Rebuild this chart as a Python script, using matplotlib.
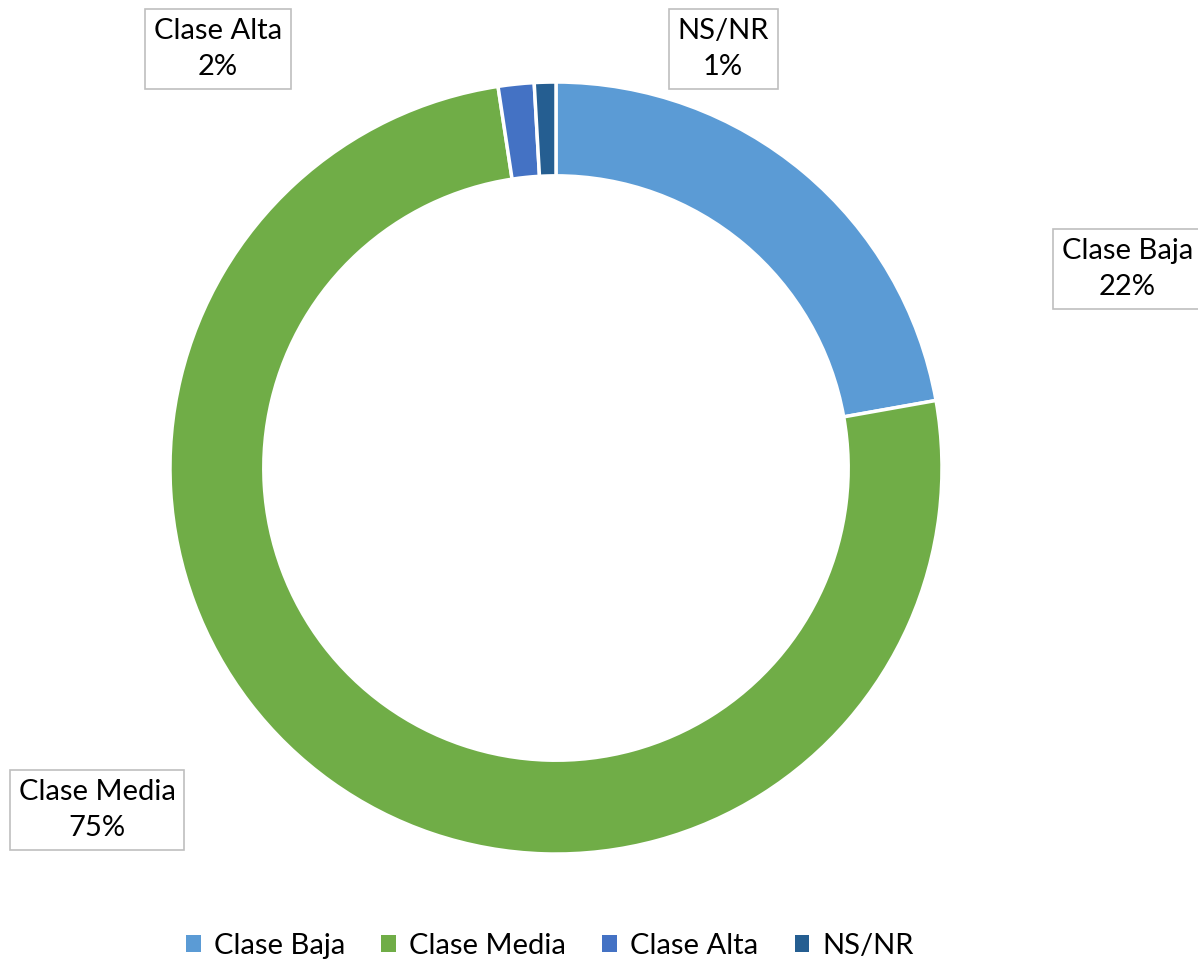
import matplotlib.pyplot as plt
from matplotlib.patches import Patch

categories = ['Clase Baja', 'Clase Media', 'Clase Alta', 'NS/NR']
values = [22.2, 75.4, 1.5, 0.9]
pct_labels = ['22%', '75%', '2%', '1%']
colors = ['#5B9BD5', '#70AD47', '#4472C4', '#255E91']

# posiciones de las etiquetas (coordenadas del eje, radio = 1)
label_pos = [(1.48, 0.516), (-1.189, -0.886), (-0.876, 1.085), (0.433, 1.085)]

plt.rcParams['font.family'] = ['Lato', 'DejaVu Sans']

fig = plt.figure(figsize=(11.98, 9.66), dpi=100)
ax = fig.add_axes([0.1419, 0.1159, 0.6444, 0.7992])

ax.pie(values, colors=colors, startangle=90, counterclock=False,
       wedgeprops=dict(width=0.243, edgecolor='white', linewidth=2.5))
ax.set_xlim(-1, 1)
ax.set_ylim(-1, 1)
ax.set_aspect('equal')
ax.axis('off')

for cat, pct, (x, y) in zip(categories, pct_labels, label_pos):
    ax.text(x, y, f'{cat}\n{pct}', ha='center', va='center', fontsize=21,
            linespacing=1.5, clip_on=False,
            bbox=dict(boxstyle='square,pad=0.3', facecolor='white',
                      edgecolor='#BFBFBF', linewidth=1.2))

handles = [Patch(facecolor=c, edgecolor='none') for c in colors]
fig.legend(handles, categories, loc='center', bbox_to_anchor=(0.459, 0.021),
           ncol=4, frameon=False, fontsize=21, handlelength=0.5,
           handleheight=0.5, handletextpad=0.45, columnspacing=1.25)

plt.savefig('out.png', dpi=100)
plt.close()
